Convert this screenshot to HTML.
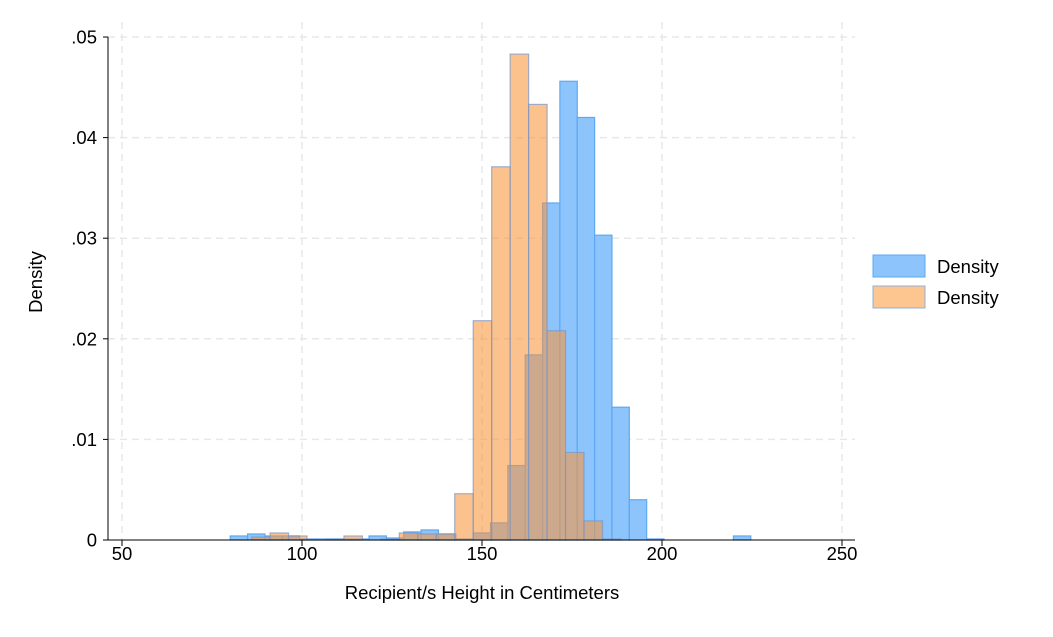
<!DOCTYPE html>
<html><head><meta charset="utf-8"><style>
body{margin:0;background:#fff;font-family:"Liberation Sans",sans-serif}
</style></head><body>
<svg id="c" width="1053" height="632" xmlns="http://www.w3.org/2000/svg" font-family="Liberation Sans, sans-serif">
</svg>
<script>
const xTicks=[50,100,150,200,250];
const yTicks=[0,0.01,0.02,0.03,0.04,0.05];
const yTickLabels=["0",".01",".02",".03",".04",".05"];
const blueStart=80.06, blueWidth=4.82;
const blueHeights=[.0004,.0006,.0004,.0004,.0001,.0001,.0001,.0001,.0004,.0002,.0008,.001,.0006,.0001,.0007,.0017,.0074,.0184,.0335,.0456,.042,.0303,.0132,.004,.0001,0,0,0,0,.0004];
const orangeStart=86.0, orangeWidth=5.13;
const orangeHeights=[.0003,.0007,.0004,0,.0001,.0004,0,.0001,.0007,.0006,.0006,.0046,.0218,.0371,.0483,.0433,.0208,.0087,.0019,.0001];
const NS="http://www.w3.org/2000/svg";
const svg=document.getElementById('c');
const X=v=>122+(v-50)*3.6;
const Y=v=>540-v*10060;
const FS=18.5;
function el(t,a){const e=document.createElementNS(NS,t);for(const k in a)e.setAttribute(k,a[k]);svg.appendChild(e);return e;}
xTicks.forEach(t=>{const g=el('line',{x1:X(t),x2:X(t),y1:22,y2:540,stroke:'#e8e8e8','stroke-width':1.5,'stroke-dasharray':'7,5'});

});
yTicks.forEach(t=>{if(t===0)return;const g=el('line',{x1:108,x2:855,y1:Y(t),y2:Y(t),stroke:'#e8e8e8','stroke-width':1.5,'stroke-dasharray':'7,5'});

});
blueHeights.forEach((h,i)=>{if(h<=0)return;const x0=X(blueStart+i*blueWidth),x1=X(blueStart+(i+1)*blueWidth);
const r=el('rect',{x:x0,y:Y(h),width:x1-x0,height:540-Y(h),fill:'#8cc4fb',stroke:'#5ea8f3','stroke-width':1.2});

});
orangeHeights.forEach((h,i)=>{if(h<=0)return;const x0=X(orangeStart+i*orangeWidth),x1=X(orangeStart+(i+1)*orangeWidth);
const r=el('rect',{x:x0,y:Y(h),width:x1-x0,height:540-Y(h),fill:'rgba(250,150,60,0.58)',stroke:'rgba(120,150,200,0.7)','stroke-width':1.2});

});
let a=el('line',{x1:108,x2:108,y1:37,y2:540,stroke:'#000','stroke-width':1});


a=el('line',{x1:108,x2:855,y1:540,y2:540,stroke:'#000','stroke-width':1});


yTicks.forEach((t,i)=>{el('line',{x1:103,x2:108,y1:Y(t),y2:Y(t),stroke:'#000'});
const tx=el('text',{x:97,y:Y(t)+6.5,'text-anchor':'end','font-size':FS});tx.textContent=yTickLabels[i];

});
xTicks.forEach(t=>{el('line',{x1:X(t),x2:X(t),y1:540,y2:546,stroke:'#000'});
const tx=el('text',{x:X(t),y:560,'text-anchor':'middle','font-size':FS});tx.textContent=t;

});
let t=el('text',{x:482,y:599,'text-anchor':'middle','font-size':FS});t.textContent="Recipient/s Height in Centimeters";


t=el('text',{x:42,y:282,'text-anchor':'middle','font-size':FS,transform:'rotate(-90 42 282)'});t.textContent="Density";


let s=el('rect',{x:873,y:255,width:52,height:22,fill:'#8cc4fb',stroke:'#5ea8f3'});


t=el('text',{x:937,y:273,'font-size':FS});t.textContent="Density";


s=el('rect',{x:873,y:286,width:52,height:22,fill:'#fdc590',stroke:'#8fb0e0'});


t=el('text',{x:937,y:304,'font-size':FS});t.textContent="Density";


</script>
</body></html>
